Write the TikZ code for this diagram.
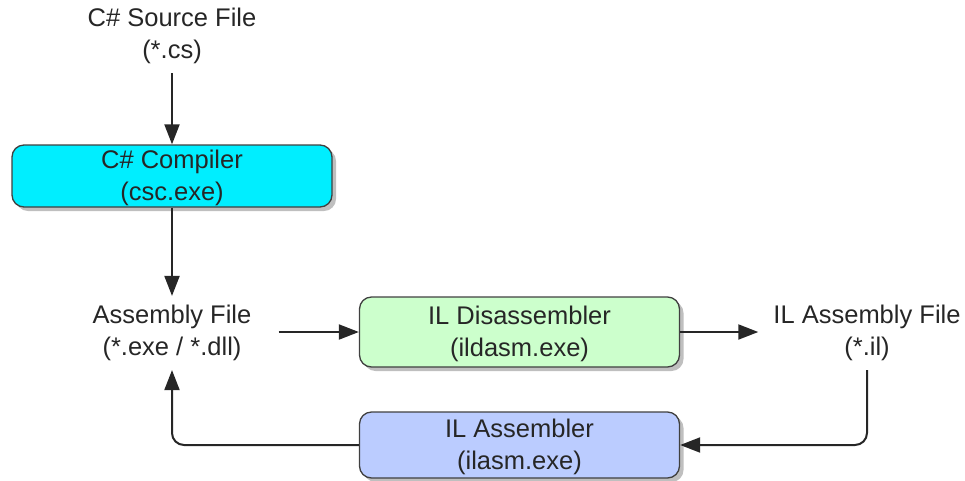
\documentclass[tikz,border=0pt]{standalone}
\usepackage{fontspec}
\setmainfont{Liberation Sans}
\usetikzlibrary{arrows.meta,shadows}
\definecolor{cyanbox}{RGB}{0,238,255}
\definecolor{greenbox}{RGB}{204,255,204}
\definecolor{bluebox}{RGB}{187,204,255}
\definecolor{edgegray}{RGB}{64,64,64}
\tikzset{
  lbl/.style={align=center,inner sep=3pt,font=\fontsize{25.5}{32}\selectfont,text=black!85},
  procbox/.style={draw=edgegray,line width=1.3pt,rounded corners=12pt,minimum width=320pt,
    align=center,font=\fontsize{25.5}{32}\selectfont,text=black!85,text depth=2pt,
    drop shadow={shadow xshift=4pt,shadow yshift=-4pt,opacity=0.25,fill=black}},
  conn/.style={draw=black!85,line width=2pt,-{Triangle[length=20pt,width=15pt]}},
}
\begin{document}
\begin{tikzpicture}[x=1pt,y=-1pt]
\useasboundingbox (0,0) rectangle (965,480);
\node[lbl] (src) at (172,36) {C\# Source File\\(*.cs)};
\node[procbox,fill=cyanbox,minimum height=62pt] (comp) at (172,176) {C\# Compiler\\(csc.exe)};
\node[lbl] (asmf) at (172,333) {Assembly File\\(*.exe / *.dll)};
\node[procbox,fill=greenbox,minimum height=70pt] (dis) at (519.5,332) {IL Disassembler\\(ildasm.exe)};
\node[lbl] (ilf) at (867,333) {IL Assembly File\\(*.il)};
\node[procbox,fill=bluebox,minimum height=66pt] (asm) at (519.5,445) {IL Assembler\\(ilasm.exe)};
\draw[conn,shorten <=6pt] (src) -- (comp);
\draw[conn,shorten >=6pt] (comp) -- (asmf);
\draw[conn,shorten <=24pt] (asmf.east |- dis.west) -- (dis.west);
\draw[conn,shorten >=12pt] (dis.east) -- (dis.east -| ilf.west);
\draw[conn,rounded corners=12pt,shorten <=6pt] (ilf.south) |- (asm.east);
\draw[conn,rounded corners=12pt,shorten >=6pt] (asm.west) -| (asmf.south);
\end{tikzpicture}
\end{document}
